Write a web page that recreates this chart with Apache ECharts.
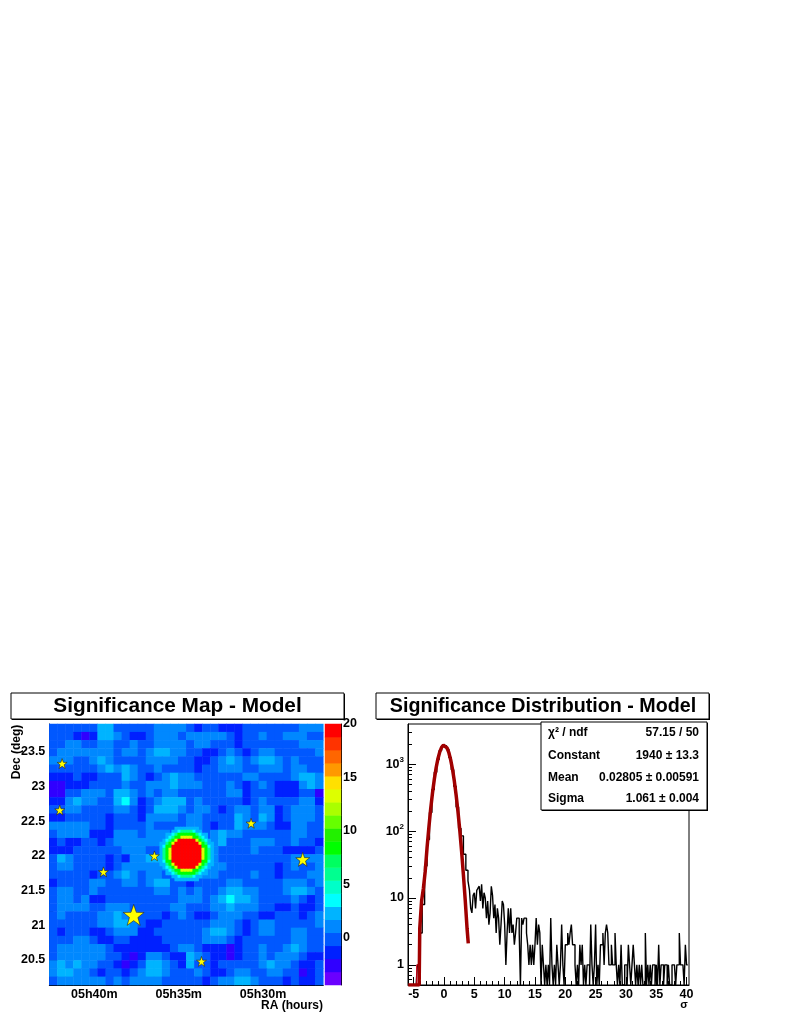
<!DOCTYPE html>
<html><head><meta charset="utf-8">
<style>html,body{margin:0;padding:0;background:#fff}#c{width:789px;height:1021px}</style>
<script src="https://cdn.jsdelivr.net/npm/echarts@6/dist/echarts.min.js"></script>
</head><body><div id="c"></div>
<script>
// ---------- data ----------
const mapTitle = 'Significance Map - Model';
const distTitle = 'Significance Distribution - Model';
// significance, top row first, left column first
const mapRows = [
[0,0,0,0,0,0,2,2,0,0,0,0,0,1,1,1,1, 0,-1,0,0,-1,-1,-1,0,0,0,0,0,0,0,1,1,1],
[0,0,0,-1,-3,-1,2,2,1,0,-1,-1,0,1,1,1,0, 1,1,1,1,1,0,-1,0,0,1,0,0,1,1,1,0,0],
[0,0,1,1,0,0,1,1,0,0,1,0,0,1,1,1,1, 0,1,1,0,0,0,-1,0,0,0,0,0,0,0,1,1,1],
[0,1,1,1,1,1,1,1,0,1,1,0,1,2,2,1,1, 0,0,-1,-1,0,1,0,-1,0,1,1,0,0,0,0,0,1],
[1,1,1,0,0,1,2,1,0,0,0,0,1,1,1,1,0, 0,-1,-1,0,1,2,1,0,1,2,2,1,0,1,0,0,0],
[0,0,0,0,0,0,1,2,1,2,1,0,0,1,0,0,0, 0,-1,0,0,1,1,1,0,0,1,1,1,0,1,1,0,0],
[-1,-1,-1,0,-1,-1,0,0,0,2,1,0,-1,0,1,2,1, 1,0,0,0,0,0,0,1,1,0,0,0,0,1,2,2,1],
[-3,-3,-1,-1,-1,0,0,0,0,1,0,0,1,1,1,2,1, 1,1,0,0,0,1,0,-1,0,1,0,-1,-1,-1,1,2,1],
[-3,-3,0,0,1,1,1,0,2,2,1,0,1,0,1,1,0, 0,0,0,0,0,1,1,-1,0,0,0,-1,-1,-1,0,0,-3],
[-1,-1,1,2,1,1,0,0,2,3,1,-1,0,1,2,2,2, 0,1,0,0,0,0,0,-1,0,1,0,0,0,0,1,1,-1],
[0,0,1,1,0,0,0,0,1,1,0,-1,0,2,2,2,1, 0,1,1,0,-1,0,1,1,0,1,1,-1,0,1,1,1,0],
[-1,-1,0,0,0,0,0,-1,0,0,0,-1,1,1,1,1,0, 1,1,0,0,0,0,2,1,0,2,1,-1,0,1,1,1,0],
[1,1,1,1,1,0,0,-1,0,0,0,0,1,0,0,0,0, 1,1,0,-1,0,0,2,1,1,1,0,-1,-1,1,1,0,0],
[0,1,1,1,1,-1,-1,-1,1,1,1,0,1,1,1,0,0, 0,1,0,1,2,1,1,0,0,0,0,0,0,1,1,0,0],
[-1,0,-1,-1,0,0,-1,0,1,1,1,1,1,1,1,1,0, 0,1,0,1,2,0,0,0,1,1,1,0,0,1,0,0,-1],
[-1,-1,-1,0,0,0,0,0,0,1,1,1,0,0,1,0,1, 2,2,1,1,0,0,0,0,1,0,0,0,-1,-1,-1,-1,0],
[0,2,1,0,0,0,0,-1,0,-1,1,1,2,2,1,1,2, 2,2,2,1,0,0,0,0,0,0,0,0,0,1,1,1,1],
[0,1,1,0,0,0,0,-1,0,1,1,1,1,1,1,2,2, 1,1,1,1,1,0,0,0,0,0,0,-1,0,1,0,0,1],
[0,0,0,0,0,-1,0,0,1,2,1,0,1,1,0,0,1, 0,1,1,1,0,0,0,0,1,0,0,-1,0,0,0,1,1],
[-1,0,0,0,0,1,1,0,0,1,1,0,1,2,2,0,0, -1,0,0,0,0,1,1,0,0,0,0,0,1,1,1,0,1],
[0,1,1,0,0,1,0,0,0,0,0,0,0,1,1,0,1, 0,1,0,0,1,2,2,1,1,0,0,0,1,2,2,1,0],
[0,1,1,0,1,-1,-1,0,0,0,0,0,0,0,0,0,1, 1,1,0,1,2,3,2,2,1,0,0,0,0,1,0,-1,0],
[0,1,1,1,1,0,0,1,1,1,0,0,0,0,0,1,1, 0,0,0,1,1,2,1,1,1,0,0,-1,-1,0,-1,-1,0],
[0,1,0,0,0,0,1,1,2,1,1,0,0,0,-1,0,1, 0,-1,-1,0,1,1,1,0,0,-1,-1,0,0,0,-1,0,1],
[0,0,0,0,0,0,1,1,2,2,1,0,-1,-1,0,0,0, 0,0,0,1,1,1,0,-1,0,1,1,0,0,0,0,0,1],
[0,-1,0,0,0,-1,-1,0,1,1,1,-1,-1,0,0,0,0, 0,0,1,2,2,1,0,-1,0,1,1,0,0,1,1,0,0],
[0,0,0,1,1,0,-1,-1,0,0,-1,-1,-1,-1,0,0,0, 0,0,1,1,1,0,-1,0,0,0,0,0,0,1,1,0,0],
[0,1,1,1,1,1,1,0,-1,-1,-1,-1,-1,-1,-1,0,1, 1,0,-1,-1,-1,-3,-1,0,0,1,0,0,1,2,1,0,0],
[0,1,1,1,1,1,1,0,0,-1,-3,-1,1,1,0,-1,-1, 2,1,0,-1,-1,-3,-1,0,0,1,0,1,1,1,0,-1,-1],
[1,2,1,2,1,1,0,0,-1,-3,-1,0,2,2,1,0,-1, 2,0,0,-1,0,0,0,0,0,1,2,1,1,0,-1,-1,0],
[1,2,2,1,1,0,-1,0,0,-1,0,1,2,2,1,0,0, 0,1,0,-1,-1,0,1,1,0,0,1,1,0,0,-3,-1,0],
[0,1,1,1,1,1,1,0,1,0,1,1,1,1,0,0,0, 0,0,-1,0,1,1,2,2,1,0,0,0,-1,0,-1,-1,0]
];
// finer reading of the central source; n = background shows through
const n = null;
const coreRows = [
[n,n,n,n,n,2.5,2.5,2.5,2.5,2.5,2.5,2.5,2.5,n,n,n,n,n],
[n,n,n,n,2.5,2.5,3.5,6,6,6,6,3.5,2.5,2.5,n,n,n,n],
[n,n,2.5,2.5,3.5,6,9,9,9,9,9,9,6,3.5,2.5,2.5,n,n],
[n,n,2.5,3.5,6,9,9,13,13,13,13,9,9,6,3.5,2.5,n,n],
[n,2.5,3.5,6,9,13,20,20,20,20,20,20,13,9,6,3.5,2.5,n],
[2.5,2.5,6,9,13,20,20,20,20,20,20,20,20,13,9,6,2.5,2.5],
[2.5,3.5,9,9,20,20,20,20,20,20,20,20,20,20,9,9,3.5,2.5],
[2.5,6,9,13,20,20,20,20,20,20,20,20,20,20,13,9,6,2.5],
[2.5,6,9,13,20,20,20,20,20,20,20,20,20,20,13,9,6,2.5],
[2.5,6,9,13,20,20,20,20,20,20,20,20,20,20,13,9,6,2.5],
[2.5,6,9,13,20,20,20,20,20,20,20,20,20,20,13,9,6,2.5],
[2.5,3.5,9,9,20,20,20,20,20,20,20,20,20,20,9,9,3.5,2.5],
[2.5,2.5,6,9,13,20,20,20,20,20,20,20,20,13,9,6,2.5,2.5],
[n,2.5,3.5,6,9,13,20,20,20,20,20,20,13,9,6,3.5,2.5,n],
[n,n,2.5,3.5,6,9,9,13,13,13,13,9,9,6,3.5,2.5,n,n],
[n,n,2.5,2.5,3.5,6,9,9,9,9,9,9,6,3.5,2.5,2.5,n,n],
[n,n,n,n,2.5,2.5,3.5,6,6,6,6,3.5,2.5,2.5,n,n,n,n],
[n,n,n,n,n,2.5,2.5,2.5,2.5,2.5,2.5,2.5,2.5,n,n,n,n,n]
];
const bandEdges = [-4.4,-3.18,-1.96,-0.74,0.48,1.7,2.92,4.14,5.36,6.58,7.8,9.02,10.24,11.46,12.68,13.9,15.12,16.34,17.56,18.78,20];
const bandColors = ['#6a00ff','#3000ff','#0020ff','#0058ff','#0088ff','#00b4ff','#00ffff','#00ffc8','#00ff90','#00ff60','#00ff00','#22f000','#66ff00','#aaff00','#ddff00','#ffe000','#ff9900','#ff6600','#ff3300','#ff0000'];
const barTicks = [0,5,10,15,20];
const raMajor = [30,35,40];
const raMinor = [27,28,29,31,32,33,34,36,37,38,39,41,42];
const decMajor = [20.5,21,21.5,22,22.5,23,23.5];
const decMinor = [20.2,20.3,20.4,20.6,20.7,20.8,20.9,21.1,21.2,21.3,21.4,21.6,21.7,21.8,21.9,22.1,22.2,22.3,22.4,22.6,22.7,22.8,22.9,23.1,23.2,23.3,23.4,23.6,23.7,23.8];
const starRA  = [41.91,42.05,30.71,36.44,27.65,39.46,37.67,33.65];
const starDec = [23.33,22.66,22.47,22.0,21.95,21.77,21.15,20.48];
const starMag = [1,1,1,1,2,1,3,1];
// histogram bin centres and counts; 0.5 is the floor of the log axis (empty bin)
const histCoreX = [-5.8,-5.4,-5,-4.6,-4.2,-3.8,-3.4,-3,-2.6,-2.2,-1.8,-1.4,-1,-0.6,-0.2,0.2,0.6,1,1.4,1.8,2.2,2.6,3,3.4,3.8];
const histCoreY = [0.5,0.5,0.5,0.5,1,3,8,30,75,190,420,760,1180,1600,1880,1900,1680,1260,830,470,230,110,85,45,26];
const histTailX = [4.1,4.3,4.5,4.7,4.9,5.1,5.3,5.5,5.7,5.9,6.1,6.3,6.5,6.7,6.9,7.1,7.3,7.5,7.7,7.9,8.1,8.3,8.5,8.7,8.9,9.1,9.3,9.5,9.7,9.9,10.1,10.3,10.5,10.7,10.9,11.1,11.3,11.5,11.7,11.9,12.1,12.3,12.5,12.7,12.9,13.1,13.3,13.5,13.7,13.9,14.1,14.3,14.5,14.7,14.9,15.1,15.3,15.5,15.7,15.9,16.1,16.3,16.5,16.7,16.9,17.1,17.3,17.5,17.7,17.9,18.1,18.3,18.5,18.7,18.9,19.1,19.3,19.5,19.7,19.9,20.1,20.3,20.5,20.7,20.9,21.1,21.3,21.5,21.7,21.9,22.1,22.3,22.5,22.7,22.9,23.1,23.3,23.5,23.7,23.9,24.1,24.3,24.5,24.7,24.9,25.1,25.3,25.5,25.7,25.9,26.1,26.3,26.5,26.7,26.9,27.1,27.3,27.5,27.7,27.9,28.1,28.3,28.5,28.7,28.9,29.1,29.3,29.5,29.7,29.9,30.1,30.3,30.5,30.7,30.9,31.1,31.3,31.5,31.7,31.9,32.1,32.3,32.5,32.7,32.9,33.1,33.3,33.5,33.7,33.9,34.1,34.3,34.5,34.7,34.9,35.1,35.3,35.5,35.7,35.9,36.1,36.3,36.5,36.7,36.9,37.1,37.3,37.5,37.7,37.9,38.1,38.3,38.5,38.7,38.9,39.1,39.3,39.5,39.7,39.9,40.1,40.3];
const histTailY = [18,13,7,6,11,12,7,13,14,15,9,16,7,12,10,5,9,4,6,15,11,5,8,3,7,5,2,4,9,8,4,1,3,7,3,7,3,4,2,3,5,5,3,0.5,5,4,5,5,3,2,1,2,1,2,1,2,5,2,4,3,0.5,2,1,0.5,1,0.5,1,0.5,5,1,0.5,1,0.5,2,1,0.5,1,4,1,0.5,2,2,3,2,3,4,2,2,1,0.5,1,0.5,2,1,2,0.5,1,0.5,1,1,0.5,4,1,0.5,1,4,0.5,1,0.5,2,2,3,1,3,4,3,1,1,2,1,1,3,1,0.5,1,0.5,2,0.5,0.5,1,1,0.5,2,1,0.5,1,2,1,0.5,1,0.5,1,0.5,1,0.5,0.5,3,0.5,1,0.5,1,0.5,1,1,0.5,1,0.5,2,0.5,1,1,0.5,1,1,0.5,1,0.5,0.5,1,1,1,0.5,1,1,3,1,1,1,0.5,2,1,1];
// fitted curve
const fitX = [-5.9,-4.1,-4,-3.7,-3.4,-3.1,-2.8,-2.5,-2.2,-1.9,-1.6,-1.3,-1,-0.7,-0.4,-0.1,0.2,0.5,0.8,1.1,1.4,1.7,2,2.3,2.6,2.9,3.2,3.5,3.8,4];
const fitY = [0.5,0.5,3.5,9,14,25,56,113,215,372,597,886,1212,1534,1789,1926,1915,1757,1489,1164,842,560,344,196,103,50,22,9.2,3.5,2.1];
const lowStepX = [-4.5,-4.5,-4,-4,-3.7];
const lowStepY = [0.5,1,1,3,8];
const countMajor = [1,10,100,1000];
const countMinor = [0.6,0.7,0.8,0.9,2,3,4,5,6,7,8,9,20,30,40,50,60,70,80,90,200,300,400,500,600,700,800,900,2000,3000];
const sigmaMajor = [-5,0,5,10,15,20,25,30,35,40];
const sigmaMinor = [-4,-3,-2,-1,1,2,3,4,6,7,8,9,11,12,13,14,16,17,18,19,21,22,23,24,26,27,28,29,31,32,33,34,36,37,38,39];
const statLabels = ['χ² / ndf','Constant','Mean','Sigma'];
const statValues = ['57.15 / 50','1940 ± 13.3','0.02805 ± 0.00591','1.061 ± 0.004'];

// ---------- drawing ----------
const FONT = '"Liberation Sans", Arial, sans-serif';
const keys = k => Array.from({length:k},(_,i)=>String(i));
const starPath = 'path://M12 0 L14.9 8.2 L23.4 8.3 L16.6 13.5 L19.1 21.7 L12 16.8 L4.9 21.7 L7.4 13.5 L0.6 8.3 L9.1 8.2 Z';
const starSizes = {1:10,2:14,3:21};
const lab = {fontFamily:FONT,fontWeight:'bold',fontSize:12.5,color:'#000'};
const tickLine = {color:'#000',width:1};

const mapData=[]; mapRows.forEach((r,j)=>r.forEach((v,i)=>mapData.push([i,j,v])));
const coreData=[]; coreRows.forEach((r,j)=>r.forEach((v,i)=>{ if(v!==null) coreData.push([i,j,v]); }));
const barData = bandColors.map((_,i)=>[0,i,(bandEdges[i]+bandEdges[i+1])/2]);
const pieces = bandColors.map((c,i)=> i===bandColors.length-1 ? {gte:bandEdges[i],lte:bandEdges[i+1]+1,color:c} : {gte:bandEdges[i],lt:bandEdges[i+1],color:c});

const catAxis = (grid,k,inverse)=>({type:'category',gridIndex:grid,data:keys(k),inverse:!!inverse,show:false});
const valAxis = (grid,pos,min,max,vals,opt={})=>Object.assign({
  type:'value',gridIndex:grid,position:pos,min,max,splitLine:{show:false},
  axisLine:{show:true,onZero:false,lineStyle:tickLine},
  axisTick:{show:true,inside:true,length:8,customValues:vals,lineStyle:tickLine},
  axisLabel:{show:true,customValues:vals,margin:4,...lab}
},opt);
const minorAxis = (grid,pos,min,max,vals,opt={})=>Object.assign({
  type:'value',gridIndex:grid,position:pos,min,max,splitLine:{show:false},
  axisLine:{show:false,onZero:false},
  axisTick:{show:true,inside:true,length:4,customValues:vals,lineStyle:tickLine},
  axisLabel:{show:false}
},opt);

const RA0=26.43, RA1=42.67, D0=20.14, D1=23.9, B0=-4.4, B1=20, S0=-5.94, S1=40.4, C0=0.5, C1=4000;

const xAxis = [
  catAxis(0,mapRows[0].length),            //0
  catAxis(1,coreRows[0].length),           //1
  catAxis(2,1),                            //2
  valAxis(0,'bottom',RA0,RA1,raMajor,{inverse:true,axisLabel:{show:true,customValues:raMajor,margin:3,...lab,formatter:v=>'05h'+v+'m'}}), //3
  minorAxis(0,'bottom',RA0,RA1,raMinor,{inverse:true}),  //4
  valAxis(3,'bottom',S0,S1,sigmaMajor,{axisLabel:{show:true,customValues:sigmaMajor,margin:3,...lab}}), //5
  minorAxis(3,'bottom',S0,S1,sigmaMinor)   //6
];
const yAxis = [
  catAxis(0,mapRows.length,true),          //0
  catAxis(1,coreRows.length,true),         //1
  catAxis(2,bandColors.length),            //2
  valAxis(0,'left',D0,D1,decMajor),        //3
  minorAxis(0,'left',D0,D1,decMinor),      //4
  valAxis(2,'right',B0,B1,barTicks,{axisLabel:{show:true,customValues:barTicks,margin:2,...lab}}),       //5
  {type:'log',gridIndex:3,position:'left',min:C0,max:C1,logBase:10,splitLine:{show:false},
   axisLine:{show:true,onZero:false,lineStyle:tickLine},
   axisTick:{show:true,inside:true,length:8,customValues:countMajor,lineStyle:tickLine},
   axisLabel:{show:true,customValues:countMajor,margin:4,...lab,
     formatter:v=>v>=100?'10{s|'+Math.round(Math.log10(v))+'}':String(Math.round(v)),
     rich:{s:{...lab,fontSize:8,verticalAlign:'top',lineHeight:16,padding:[0,0,6,0]}}}}, //6
  {type:'log',gridIndex:3,position:'left',min:C0,max:C1,logBase:10,splitLine:{show:false},
   axisLine:{show:false,onZero:false},
   axisTick:{show:true,inside:true,length:4,customValues:countMinor,lineStyle:tickLine},
   axisLabel:{show:false}} //7
];

const graphicEls = [];
const box=(x,y,w,h)=>{
  graphicEls.push({type:'rect',z:100,shape:{x:x+1,y:y+1,width:w,height:h},style:{fill:'#000'}});
  graphicEls.push({type:'rect',z:101,shape:{x,y,width:w,height:h},style:{fill:'#fff',stroke:'#000',lineWidth:1}});
};
const txt=(x,y,t,size,align,rot)=>graphicEls.push({type:'text',z:102,x,y,rotation:rot||0,
  style:{x:0,y:0,text:t,fill:'#000',font:'bold '+size+'px '+FONT,textAlign:align,textVerticalAlign:'middle'}});
box(11,693,333,26); txt(177.5,706.5,mapTitle,20.8,'center');
box(376,693,333,26); txt(543,706.5,distTitle,19.7,'center');
txt(323,1005.5,'RA (hours)',12,'right');
txt(17,752,'Dec (deg)',12,'center',Math.PI/2);
txt(684,1005,'σ',11,'center');
box(541,722,166,88);
const statY=[733,756,778,799];
statLabels.forEach((t,i)=>{ txt(548,statY[i],t,12,'left'); txt(699,statY[i],statValues[i],12,'right'); });

const option = {
  animation:false, backgroundColor:'#fff', textStyle:{fontFamily:FONT},
  grid:[
    {left:49.3,top:724,width:274,height:261,show:false},
    {left:159.7,top:827,width:54,height:54,show:false},
    {left:325,top:724,width:16,height:261,show:false},
    {left:408,top:724,width:281,height:261,show:true,borderColor:'#000',borderWidth:1,backgroundColor:'#fff'}
  ],
  xAxis,yAxis,
  visualMap:{type:'piecewise',show:false,seriesIndex:[0,1,2],dimension:2,pieces},
  series:[
    {type:'heatmap',xAxisIndex:0,yAxisIndex:0,data:mapData,progressive:0},
    {type:'heatmap',xAxisIndex:1,yAxisIndex:1,data:coreData,progressive:0},
    {type:'heatmap',xAxisIndex:2,yAxisIndex:2,data:barData,progressive:0},
    {type:'scatter',xAxisIndex:3,yAxisIndex:3,z:10,symbol:starPath,
     data:starRA.map((r,i)=>({value:[r,starDec[i]],symbolSize:starSizes[starMag[i]]})),
     itemStyle:{color:'#ffff00',borderColor:'#222',borderWidth:0.6,opacity:1}},
    {type:'line',xAxisIndex:5,yAxisIndex:6,step:'middle',showSymbol:false,symbol:'none',
     data:histCoreX.concat(histTailX).map((x,i)=>[x,histCoreY.concat(histTailY)[i]]),lineStyle:{color:'#000',width:1.4}},
    {type:'line',xAxisIndex:5,yAxisIndex:6,showSymbol:false,symbol:'none',z:3,
     data:lowStepX.map((x,i)=>[x,lowStepY[i]]),lineStyle:{color:'#e8001c',width:1}},
    {type:'line',xAxisIndex:5,yAxisIndex:6,showSymbol:false,symbol:'none',z:4,
     data:fitX.map((x,i)=>[x,fitY[i]]),lineStyle:{color:'#a00000',width:3.5}}
  ],
  graphic:{elements:graphicEls}
};
echarts.init(document.getElementById('c'),null,{renderer:'canvas'}).setOption(option);
</script></body></html>
